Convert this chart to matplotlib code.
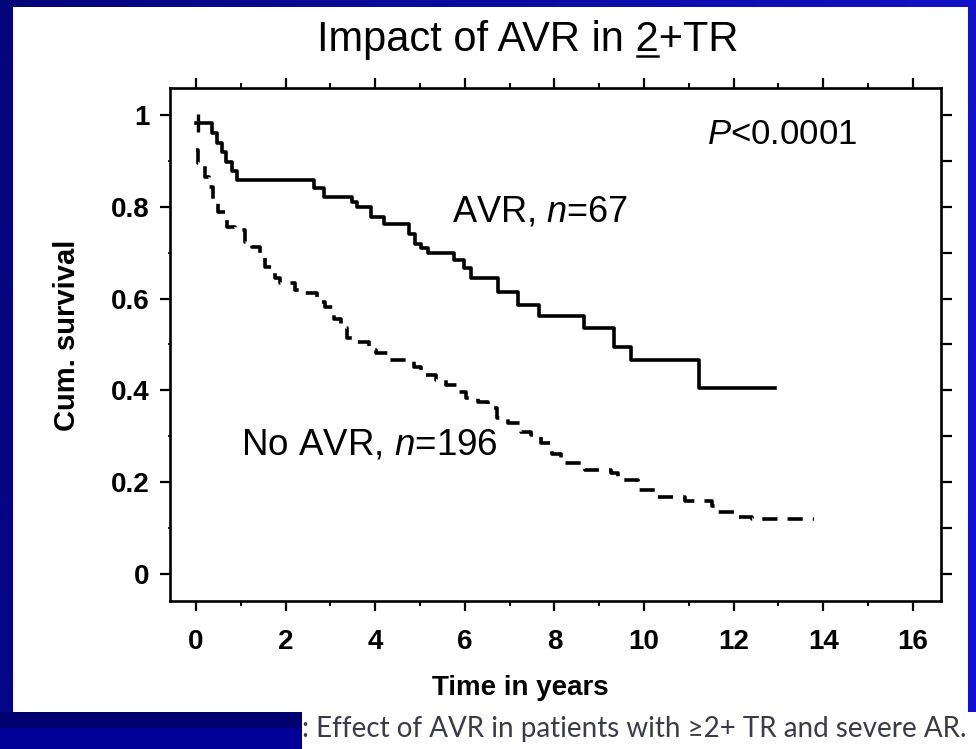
import numpy as np
import matplotlib
matplotlib.use('Agg')
import matplotlib.pyplot as plt
from matplotlib.patches import Rectangle
from matplotlib.lines import Line2D
from matplotlib.ticker import MultipleLocator

plt.rcParams['font.family'] = ['Liberation Sans', 'DejaVu Sans']
plt.rcParams['mathtext.fontset'] = 'custom'
plt.rcParams['mathtext.rm'] = 'Liberation Sans'
plt.rcParams['mathtext.it'] = 'Liberation Sans:italic'

# ---------------- survival data (years, cumulative survival) ----------------
avr_t = [0.00, 0.35, 0.46, 0.57, 0.68, 0.80, 0.92, 2.63, 2.85, 3.49, 3.60,
         3.90, 4.19, 4.75, 4.88, 5.02, 5.17, 5.76, 5.98, 6.14, 6.74, 7.19,
         7.66, 8.67, 9.32, 9.72, 11.22, 12.93]
avr_s = [0.982, 0.961, 0.940, 0.919, 0.898, 0.878, 0.858, 0.840, 0.822, 0.811,
         0.800, 0.778, 0.762, 0.741, 0.720, 0.710, 0.699, 0.684, 0.667, 0.645,
         0.615, 0.586, 0.562, 0.536, 0.495, 0.466, 0.405, 0.405]
avr_censor_t = [0.05]
avr_censor_s = [0.982]

noavr_t = [0.00, 0.05, 0.20, 0.28, 0.39, 0.50, 0.69, 0.87, 1.10, 1.25, 1.43,
           1.55, 1.77, 1.88, 2.22, 2.44, 2.70, 2.89, 3.07, 3.23, 3.37, 3.60,
           3.86, 4.01, 4.31, 4.87, 5.02, 5.35, 5.58, 5.84, 6.02, 6.29, 6.51,
           6.73, 6.96, 7.26, 7.48, 7.70, 7.95, 8.15, 8.68, 9.27, 9.42, 9.87,
           10.24, 10.91, 11.51, 11.66, 12.03, 12.41, 13.79]
noavr_s = [0.924, 0.895, 0.866, 0.844, 0.811, 0.789, 0.757, 0.749, 0.724, 0.713,
           0.691, 0.669, 0.644, 0.633, 0.619, 0.613, 0.593, 0.582, 0.555, 0.536,
           0.514, 0.506, 0.488, 0.481, 0.466, 0.452, 0.434, 0.423, 0.412, 0.397,
           0.383, 0.375, 0.361, 0.339, 0.328, 0.310, 0.303, 0.285, 0.262, 0.241,
           0.227, 0.219, 0.205, 0.183, 0.168, 0.160, 0.147, 0.136, 0.125, 0.119,
           0.119]

x_major = [0, 2, 4, 6, 8, 10, 12, 14, 16]
y_major = [0, 0.2, 0.4, 0.6, 0.8, 1.0]
y_labels = ['0', '0.2', '0.4', '0.6', '0.8', '1']

W, H = 976, 749
fig = plt.figure(figsize=(W / 100, H / 100), dpi=100)

# ---------------- slide background ----------------
bg = fig.add_axes([0, 0, 1, 1], zorder=-10)
gx, gy = np.meshgrid(np.linspace(0, 1, 200), np.linspace(0, 1, 150))
rgb = np.dstack([0.02 + 0.05 * gx, 0.02 + 0.05 * gx, 0.48 + 0.30 * gx + 0.06 * gy])
bg.imshow(rgb, extent=[0, W, H, 0], aspect='auto')
bg.set_xlim(0, W)
bg.set_ylim(H, 0)
bg.axis('off')
bg.add_patch(Rectangle((13, 7), 955, 705, color='white', lw=0))
bg.add_patch(Rectangle((302, 712), 674, 37, color='white', lw=0))
bg.text(302, 729, ': Effect of AVR in patients with \u22652+ TR and severe AR.',
        family=['Lato', 'DejaVu Sans'], fontsize=20, color='#3b3b48',
        ha='left', va='center')
bg.add_patch(Rectangle((0, 712), 302, 16, color='#000070', lw=0, zorder=5))
bg.add_patch(Rectangle((0, 728), 302, 21, color='#000098', lw=0, zorder=5))

# ---------------- survival curves ----------------
ax = fig.add_axes([170 / W, 1 - 601 / H, (941 - 170) / W, (601 - 88) / H])
ax.step(avr_t, avr_s, where='post', color='black', lw=2.6)
ax.plot(avr_censor_t, avr_censor_s, ls='none', marker='|', ms=13, mew=2.4,
        color='black')
ax.step(noavr_t, noavr_s, where='post', color='black', lw=2.6,
        ls=(0, (4.2, 2.8)))

ax.set_xlim(-0.58, 16.63)
ax.set_ylim(-0.059, 1.059)
ax.set_xticks(x_major)
ax.xaxis.set_minor_locator(MultipleLocator(1))
ax.set_yticks(y_major)
ax.set_yticklabels(y_labels)
ax.yaxis.set_minor_locator(MultipleLocator(0.1))
ax.tick_params(which='major', direction='out', length=7, width=1.6,
               labelsize=20)
ax.tick_params(axis='x', which='major', pad=13)
ax.tick_params(axis='y', which='major', pad=8)
ax.tick_params(axis='x', which='minor', direction='out', length=3.5, width=1.4)
ax.tick_params(axis='y', which='minor', direction='out', length=1.5, width=1.2)
for lab in ax.get_xticklabels() + ax.get_yticklabels():
    lab.set_fontweight('bold')
for sp in ax.spines.values():
    sp.set_linewidth(1.9)

top = ax.secondary_xaxis('top')
top.set_xticks(x_major)
top.xaxis.set_minor_locator(MultipleLocator(1))
top.tick_params(which='major', direction='out', length=7, width=1.6,
                labeltop=False)
top.tick_params(which='minor', direction='out', length=3.5, width=1.4)

right = ax.secondary_yaxis('right')
right.set_yticks(np.arange(0, 1.01, 0.1))
right.tick_params(direction='out', length=8, width=1.6, labelright=False)

# ---------------- text ----------------
title_kw = dict(fontsize=30, va='baseline', ha='left')
title_x, title_y = 317, 51
title = fig.text(title_x / W, 1 - title_y / H, 'Impact of AVR in 2+TR', **title_kw)

# underline under the "2" (reads as "at least 2")
renderer = fig.canvas.get_renderer()
pre = fig.text(0, 0, 'Impact of AVR in 2', **title_kw)
two = fig.text(0, 0, '2', **title_kw)
w_pre = pre.get_window_extent(renderer).width
w_two = two.get_window_extent(renderer).width
pre.remove()
two.remove()
u_x1 = title_x + w_pre - w_two + 1
u_x2 = title_x + w_pre - 1
u_y = title_y + 5
fig.add_artist(Line2D([u_x1 / W, u_x2 / W], [1 - u_y / H, 1 - u_y / H],
                      color='black', lw=1.8, transform=fig.transFigure))

fig.text(67 / W, 1 - 335 / H, 'Cum. survival', rotation=90, fontsize=21,
         weight='bold', ha='center', va='center')
fig.text(520 / W, 1 - 688 / H, 'Time in years', fontsize=20, weight='bold',
         ha='center', va='center')
fig.text(782 / W, 1 - 135 / H, '$P$<0.0001', fontsize=25, ha='center',
         va='center')
fig.text(540 / W, 1 - 212 / H, 'AVR, $n$=67', fontsize=26, ha='center',
         va='center')
fig.text(369 / W, 1 - 445 / H, 'No AVR, $n$=196', fontsize=26.5, ha='center',
         va='center')

fig.savefig('out.png', dpi=100)
